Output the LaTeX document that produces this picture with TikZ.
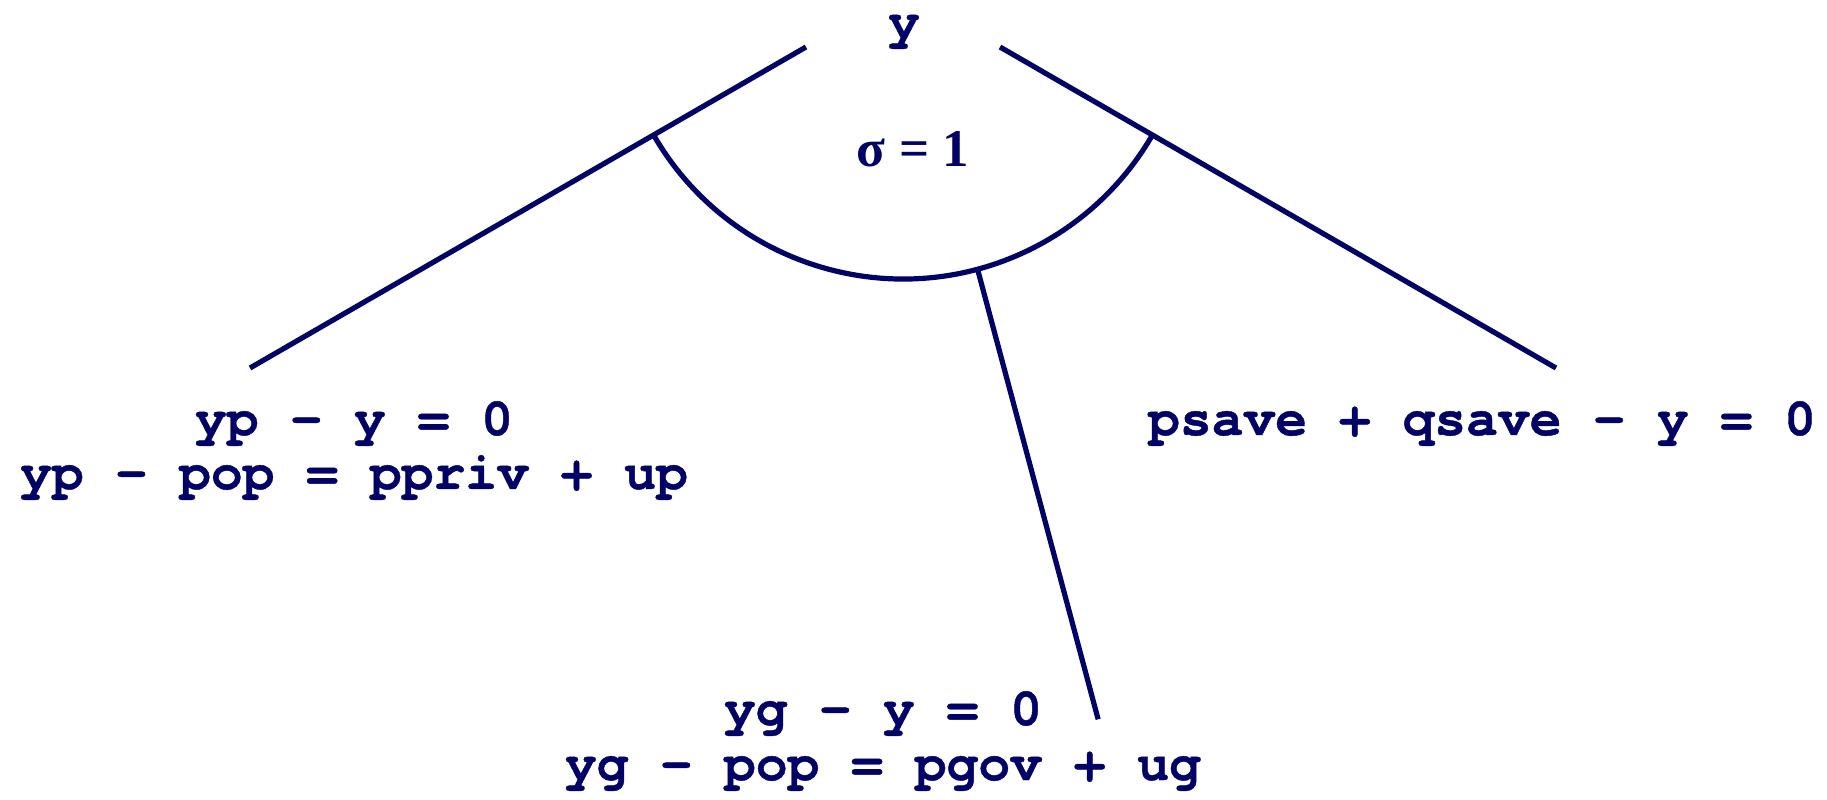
\documentclass[tikz,border=0pt]{standalone}
\usepackage{fontspec}
\usepackage{tikz}
\usetikzlibrary{calc}
\setmainfont{Liberation Serif}
\newfontfamily\cursorfont{texgyrecursor}[Extension=.otf,UprightFont=*-regular,BoldFont=*-bold,BoldFeatures={FakeBold=0.8}]
\definecolor{navyc}{HTML}{020266}
\tikzset{
  ln/.style={navyc,line width=2.6pt},
  eq/.style={anchor=base,inner sep=0pt,text=navyc,font=\cursorfont\bfseries\fontsize{26.5}{28}\selectfont},
  sig/.style={anchor=base,inner sep=0pt,text=navyc,font=\bfseries\fontsize{26.5}{28}\selectfont}
}
\begin{document}
\begin{tikzpicture}[x=0.5pt,y=0.5pt]
\useasboundingbox (0,0) rectangle (1827,799);
\coordinate (apex) at (903,808);
% branch ends
\coordinate (lt) at ($(apex)+(210:112)$);
\coordinate (lb) at ($(apex)+(210:754)$);
\coordinate (rt) at ($(apex)+(330:112)$);
\coordinate (rb) at ($(apex)+(330:754)$);
\coordinate (mt) at ($(apex)+(285:288)$);
\coordinate (mb) at ($(apex)+(285:754)$);
\coordinate (as) at ($(apex)+(210:288)$);
% labels
\node[eq] (ytop) at (904,761) {y};
\node[sig] (sigma) at (913,632) {σ = 1};
\node[eq] (pl1) at (354,364) {yp - y = 0};
\node[eq] (pl2) at (354,310) {yp - pop = ppriv + up};
\node[eq] (ps) at (1482,364) {psave + qsave - y = 0};
\node[eq] (gl1) at (883,74) {yg - y = 0};
\node[eq] (gl2) at (883,19) {yg - pop = pgov + ug};
% tree
\draw[ln] (lt) -- (lb);
\draw[ln] (rt) -- (rb);
\draw[ln] (mt) -- (mb);
\draw[ln] (as) arc[start angle=210,end angle=330,radius=288];
\end{tikzpicture}
\end{document}
